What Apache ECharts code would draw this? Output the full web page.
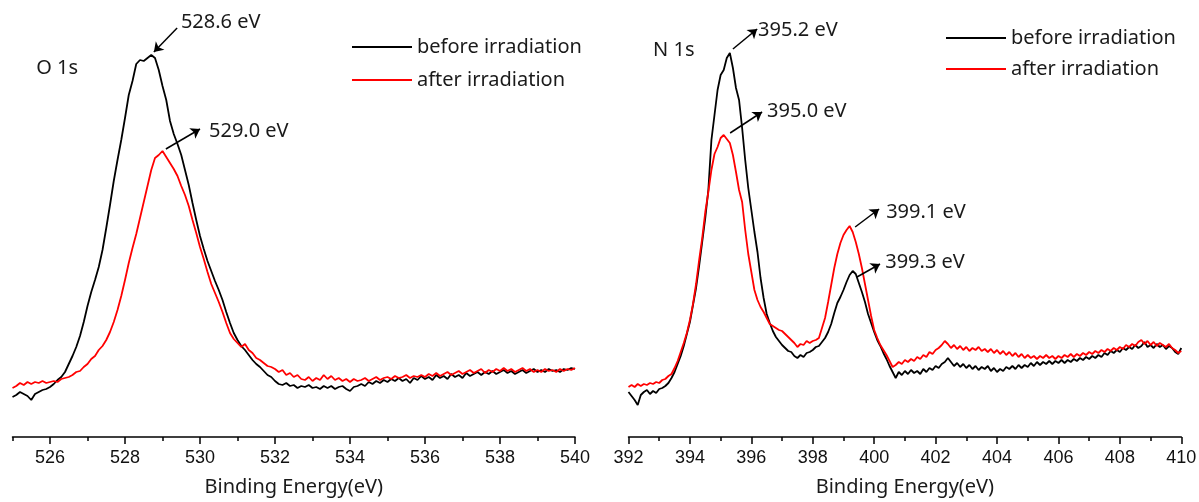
<!DOCTYPE html>
<html>
<head>
<meta charset="utf-8">
<title>XPS O 1s / N 1s before and after irradiation</title>
<script src="https://cdn.jsdelivr.net/npm/echarts@6/dist/echarts.min.js"></script>
<style>
  html, body { margin: 0; padding: 0; background: #fff; }
  #main { width: 1199px; height: 502px; }
</style>
</head>
<body>
<div id="main"></div>
<script>
// O 1s region, 525.0 -> 540.0 eV every 0.1 eV (intensity, a.u.)
var o1sStart = 525, o1sStep = 0.1;
var o1sBefore = [
  40, 42, 45, 43, 41, 37, 43, 45, 47, 48,
  50, 53, 57, 60, 65, 73, 81, 90, 101, 115,
  131, 145, 157, 170, 187, 209, 232, 256, 277, 297,
  319, 342, 356, 373, 377, 376, 379, 382, 379, 367,
  351, 337, 316, 303, 293, 282, 267, 252, 234, 217,
  201, 188, 176, 166, 156, 147, 137, 125, 114, 104,
  97, 91, 87, 82, 77, 73, 70, 66, 62, 60,
  56, 53, 52, 54, 51, 52, 49, 51, 50, 52,
  49, 50, 48, 51, 49, 51, 48, 50, 51, 48,
  46, 50, 51, 53, 51, 55, 53, 56, 54, 57,
  55, 58, 56, 59, 56, 58, 54, 59, 57, 61,
  58, 60, 57, 62, 59, 61, 58, 63, 60, 62,
  59, 64, 61, 63, 65, 62, 65, 63, 66, 63,
  65, 67, 64, 66, 63, 65, 67, 64, 66, 68,
  65, 67, 65, 68, 66, 67, 65, 68, 67, 69,
  68
];
var o1sAfter = [
  49, 51, 54, 52, 55, 53, 55, 54, 56, 54,
  55, 56, 55, 58, 59, 60, 62, 65, 66, 70,
  73, 78, 81, 87, 91, 97, 105, 115, 127, 141,
  157, 174, 189, 203, 219, 235, 251, 267, 279, 282,
  286, 280, 274, 268, 261, 251, 242, 231, 217, 204,
  190, 178, 165, 153, 144, 135, 125, 114, 104, 98,
  94, 90, 93, 87, 84, 79, 77, 74, 71, 70,
  68, 65, 67, 62, 64, 60, 62, 58, 57, 60,
  56, 59, 57, 62, 58, 61, 57, 59, 56, 58,
  55, 58, 56, 57, 59, 56, 58, 60, 57, 59,
  60, 58, 61, 59, 60, 62, 59, 61, 60, 62,
  60, 63, 61, 64, 61, 63, 65, 62, 64, 66,
  63, 65, 67, 64, 66, 68, 64, 67, 65, 68,
  66, 69, 66, 68, 65, 67, 69, 66, 68, 65,
  67, 65, 68, 66, 67, 65, 68, 66, 68, 67,
  69
];

// N 1s region, 392.0 -> 410.0 eV every 0.1 eV
var n1sStart = 392, n1sStep = 0.1;
var n1sBefore = [
  45, 41, 37, 32, 42, 45, 47, 43, 46, 44,
  48, 49, 51, 54, 59, 65, 73, 81, 91, 103,
  115, 132, 149, 171, 195, 219, 247, 297, 322, 347,
  362, 367, 379, 384, 369, 349, 337, 309, 277, 249,
  227, 205, 185, 159, 139, 123, 114, 106, 100, 96,
  92, 89, 86, 85, 81, 79, 82, 80, 84, 85,
  87, 90, 91, 95, 99, 105, 113, 124, 134, 140,
  147, 155, 162, 166, 163, 154, 145, 135, 123, 114,
  105, 97, 91, 84, 78, 71, 65, 59, 65, 62,
  66, 63, 67, 64, 66, 63, 68, 65, 69, 67,
  71, 69, 73, 75, 79, 75, 71, 74, 70, 73,
  69, 72, 68, 71, 67, 70, 68, 71, 66, 69,
  65, 68, 66, 70, 68, 71, 68, 72, 69, 72,
  70, 74, 71, 75, 72, 75, 73, 76, 73, 76,
  74, 77, 74, 77, 75, 78, 76, 79, 77, 80,
  78, 81, 79, 82, 80, 84, 82, 86, 84, 87,
  85, 89, 87, 90, 88, 92, 89, 91, 95, 90,
  92, 89, 93, 90, 92, 88, 91, 89, 85, 83,
  89
];
var n1sAfter = [
  50, 52, 50, 53, 51, 53, 52, 54, 53, 55,
  54, 57, 58, 61, 63, 69, 76, 85, 94, 104,
  117, 133, 153, 177, 199, 225, 245, 267, 283, 290,
  299, 302, 298, 294, 282, 265, 247, 235, 207, 183,
  165, 147, 137, 130, 125, 119, 113, 111, 109, 107,
  106, 103, 100, 97, 94, 90, 93, 92, 96, 94,
  96, 97, 99, 109, 119, 135, 152, 169, 183, 194,
  202, 207, 211, 205, 195, 183, 169, 153, 137, 121,
  107, 99, 92, 87, 82, 76, 70, 72, 75, 73,
  77, 75, 78, 76, 80, 78, 82, 80, 85, 83,
  87, 89, 92, 96, 93, 89, 92, 88, 91, 87,
  90, 86, 89, 87, 90, 86, 88, 85, 88, 84,
  87, 83, 86, 82, 85, 81, 84, 80, 83, 79,
  82, 79, 81, 78, 81, 79, 82, 79, 81, 78,
  81, 79, 82, 80, 83, 80, 83, 81, 84, 82,
  85, 83, 86, 84, 87, 85, 88, 86, 89, 87,
  90, 88, 92, 90, 93, 91, 95, 97, 93, 96,
  92, 95, 91, 94, 92, 90, 93, 89, 87, 84,
  86
];

var o1sTicks = [526, 528, 530, 532, 534, 536, 538, 540];
var n1sTicks = [392, 394, 396, 398, 400, 402, 404, 406, 408, 410];
var seriesNames = ['before irradiation', 'after irradiation'];

// peak annotations: arrow from -> to, text starts at "at"
var o1sNotes = [
  { text: 'O 1s', at: [525.63, 369] },
  { text: '528.6 eV', at: [529.49, 415], from: [529.39, 409], to: [528.77, 385] },
  { text: '529.0 eV', at: [530.24, 306], from: [529.09, 288], to: [530.0, 308] }
];
var n1sNotes = [
  { text: 'N 1s', at: [392.8, 387] },
  { text: '395.2 eV', at: [396.22, 407], from: [395.40, 388], to: [396.19, 408] },
  { text: '395.0 eV', at: [396.51, 326], from: [395.31, 304], to: [396.35, 325] },
  { text: '399.1 eV', at: [400.39, 225], from: [399.38, 210], to: [400.16, 228] },
  { text: '399.3 eV', at: [400.36, 175], from: [399.44, 160], to: [400.19, 173] }
];

var textFont = 'Noto Sans';
var textColor = '#1a1a1a';

function pairs(start, step, values) {
  return values.map(function (v, i) {
    return [+(start + i * step).toFixed(1), v];
  });
}

function mainAxis(grid, min, max, ticks) {
  return {
    type: 'value', gridIndex: grid, position: 'bottom', min: min, max: max,
    axisLine: { onZero: false, lineStyle: { color: '#000', width: 1.5 } },
    axisTick: { customValues: ticks, length: 7, lineStyle: { color: '#000', width: 1.5 } },
    axisLabel: {
      customValues: ticks, margin: 12, color: '#111',
      fontFamily: 'Liberation Sans', fontSize: 18,
      showMinLabel: true, showMaxLabel: true
    },
    splitLine: { show: false },
    name: 'Binding Energy(eV)', nameLocation: 'middle', nameGap: 40,
    nameTextStyle: { fontFamily: textFont, fontSize: 20, color: textColor }
  };
}

function minorAxis(grid, min, max) {
  return {
    type: 'value', gridIndex: grid, position: 'bottom', min: min, max: max, interval: 1,
    axisLine: { show: false },
    axisTick: { length: 4, lineStyle: { color: '#000', width: 1.5 } },
    axisLabel: { show: false },
    splitLine: { show: false }
  };
}

function notesMarkLine(notes) {
  return {
    silent: true,
    symbol: ['none', 'arrow'],
    symbolSize: 9,
    label: { show: false },
    lineStyle: { color: '#000', width: 1.5, type: 'solid' },
    data: notes.filter(function (n) { return n.from; }).map(function (n) {
      return [{ coord: n.from }, { coord: n.to }];
    })
  };
}

function notesMarkPoint(notes) {
  return {
    silent: true,
    symbol: 'circle',
    symbolSize: 0,
    label: {
      show: true, position: 'right', distance: 0, formatter: '{b}',
      fontFamily: textFont, fontSize: 20, color: textColor
    },
    data: notes.map(function (n) { return { name: n.text, coord: n.at }; })
  };
}

function curve(name, color, axis, data, notes) {
  var s = {
    name: name, type: 'line', xAxisIndex: axis, yAxisIndex: axis === 0 ? 0 : 1,
    data: data, showSymbol: false, symbol: 'none', silent: true,
    lineStyle: { color: color, width: 1.8 }, itemStyle: { color: color },
    emphasis: { disabled: true }
  };
  if (notes) {
    s.markLine = notesMarkLine(notes);
    s.markPoint = notesMarkPoint(notes);
  }
  return s;
}

function legendAt(left, top, gap) {
  return {
    data: seriesNames, orient: 'vertical', left: left, top: top, padding: 0,
    icon: 'rect', itemWidth: 60, itemHeight: 2, itemGap: gap, selectedMode: false,
    textStyle: { fontFamily: textFont, fontSize: 20, lineHeight: 20, color: textColor }
  };
}

var chart = echarts.init(document.getElementById('main'));
chart.setOption({
  animation: false,
  backgroundColor: '#fff',
  grid: [
    { left: 12.5, top: 0, width: 562.5, height: 437, outerBoundsMode: 'none' },
    { left: 628.5, top: 0, width: 552.8, height: 437, outerBoundsMode: 'none' }
  ],
  legend: [legendAt(352, 37, 13), legendAt(946, 28, 11)],
  xAxis: [
    mainAxis(0, 525, 540, o1sTicks),
    mainAxis(1, 392, 410, n1sTicks),
    minorAxis(0, 525, 540),
    minorAxis(1, 392, 410)
  ],
  yAxis: [
    { type: 'value', gridIndex: 0, min: 0, max: 437, show: false },
    { type: 'value', gridIndex: 1, min: 0, max: 437, show: false }
  ],
  series: [
    curve(seriesNames[0], '#000', 0, pairs(o1sStart, o1sStep, o1sBefore), o1sNotes),
    curve(seriesNames[1], '#ff0000', 0, pairs(o1sStart, o1sStep, o1sAfter)),
    curve(seriesNames[0], '#000', 1, pairs(n1sStart, n1sStep, n1sBefore), n1sNotes),
    curve(seriesNames[1], '#ff0000', 1, pairs(n1sStart, n1sStep, n1sAfter))
  ]
});
</script>
</body>
</html>
